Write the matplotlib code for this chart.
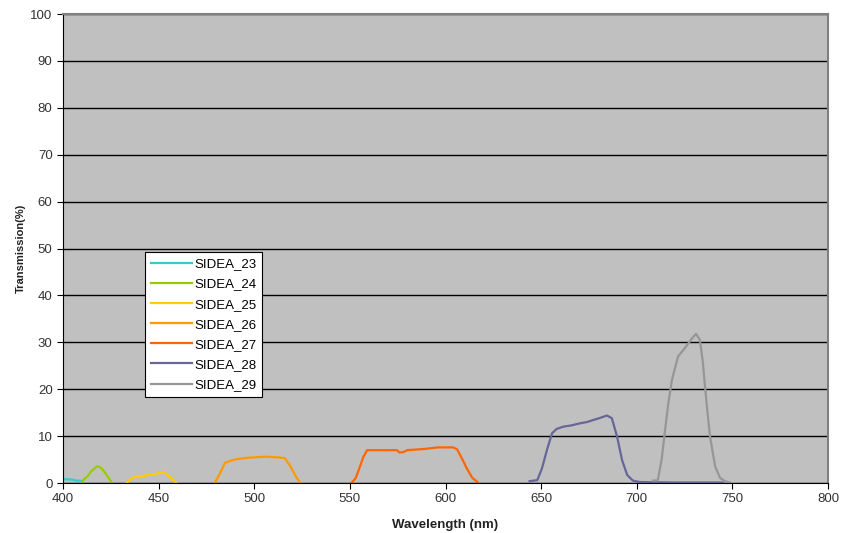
import numpy as np
import matplotlib.pyplot as plt

plt.rcParams['font.family'] = ['Liberation Sans', 'DejaVu Sans']

# ---- data (wavelength nm, transmission %) ----
wl_23 = [400, 402, 405, 407, 409, 410]
tr_23 = [0.8, 0.8, 0.7, 0.5, 0.5, 0.4]

wl_24 = [410, 411, 413, 415, 418, 420, 422, 424, 425.6]
tr_24 = [0.2, 0.8, 1.5, 2.6, 3.6, 3.2, 2.2, 1.0, 0.1]

wl_25 = [433.5, 436.6, 440, 445, 449, 452, 454, 456.5, 459]
tr_25 = [0.1, 1.2, 1.4, 1.7, 2.0, 2.3, 2.0, 1.0, 0.1]

wl_26 = [479.5, 482, 484.7, 488, 491, 497, 505.6, 512, 516, 519, 522, 524]
tr_26 = [0.1, 2.0, 4.3, 4.8, 5.1, 5.4, 5.6, 5.5, 5.3, 3.5, 1.2, 0.1]

wl_27 = [551, 553, 555, 557, 559, 565, 574.6, 576, 578, 580, 590, 596, 604,
         606, 607.6, 609.5, 611, 614, 617]
tr_27 = [0.1, 1.0, 3.2, 5.5, 7.0, 7.0, 7.0, 6.5, 6.6, 7.0, 7.3, 7.6, 7.6,
         7.2, 6.0, 4.5, 3.2, 1.1, 0.1]

wl_28 = [644, 648, 650.5, 653, 655.7, 658, 661.4, 666, 670, 674, 677, 681,
         684.4, 687, 689.7, 692.3, 695, 698, 701.7, 720, 745]
tr_28 = [0.4, 0.6, 3.2, 7.0, 10.6, 11.5, 12.0, 12.3, 12.7, 13.0, 13.4, 13.9,
         14.4, 13.8, 9.9, 4.9, 1.7, 0.5, 0.2, 0.1, 0.1]

wl_29 = [708.5, 711, 713, 714.8, 716.5, 718.4, 721.6, 725.2, 729, 731, 733,
         734.5, 735.7, 737, 738.3, 741, 743.5, 746, 748.7]
tr_29 = [0.5, 0.6, 5.0, 11.3, 17.0, 22.0, 27.0, 28.8, 30.9, 31.8, 30.5,
         26.0, 20.5, 15.0, 9.9, 3.5, 1.1, 0.4, 0.1]

series = [
    ('SIDEA_23', wl_23, tr_23, '#33CCCC'),
    ('SIDEA_24', wl_24, tr_24, '#99CC00'),
    ('SIDEA_25', wl_25, tr_25, '#FFCC00'),
    ('SIDEA_26', wl_26, tr_26, '#FF9900'),
    ('SIDEA_27', wl_27, tr_27, '#FF6600'),
    ('SIDEA_28', wl_28, tr_28, '#666699'),
    ('SIDEA_29', wl_29, tr_29, '#969696'),
]

fig = plt.figure(figsize=(8.42, 5.33), dpi=100)
ax = fig.add_axes([0.0748, 0.0938, 0.9086, 0.8799])
ax.set_facecolor('#C0C0C0')

for name, x, y, c in series:
    ax.plot(x, y, color=c, lw=1.6, label=name)

ax.set_xlim(400, 800)
ax.set_ylim(0, 100)
ax.set_xticks(np.arange(400, 801, 50))
ax.set_yticks(np.arange(0, 101, 10))
ax.yaxis.grid(True, color='black', lw=1)
ax.set_axisbelow(True)
ax.tick_params(direction='out', length=4, colors='black', labelcolor='#333333',
               labelsize=9.5)

for s in ['top', 'right']:
    ax.spines[s].set_color('#808080')
    ax.spines[s].set_linewidth(1.5)
for s in ['left', 'bottom']:
    ax.spines[s].set_color('black')

ax.set_xlabel('Wavelength (nm)', fontsize=9.5, fontweight='bold',
              color='#222222', labelpad=10)
ax.set_ylabel('Transmission(%)', fontsize=8, fontweight='bold',
              color='#222222', labelpad=3)

leg = ax.legend(loc='lower left', bbox_to_anchor=(0.107, 0.183), fontsize=9.5,
                frameon=True, fancybox=False, edgecolor='black',
                facecolor='white', framealpha=1,
                borderpad=0.45, labelspacing=0.6, handlelength=3.1,
                handletextpad=0.2, borderaxespad=0)
leg.get_frame().set_linewidth(0.8)

plt.savefig('out.png', dpi=100)
